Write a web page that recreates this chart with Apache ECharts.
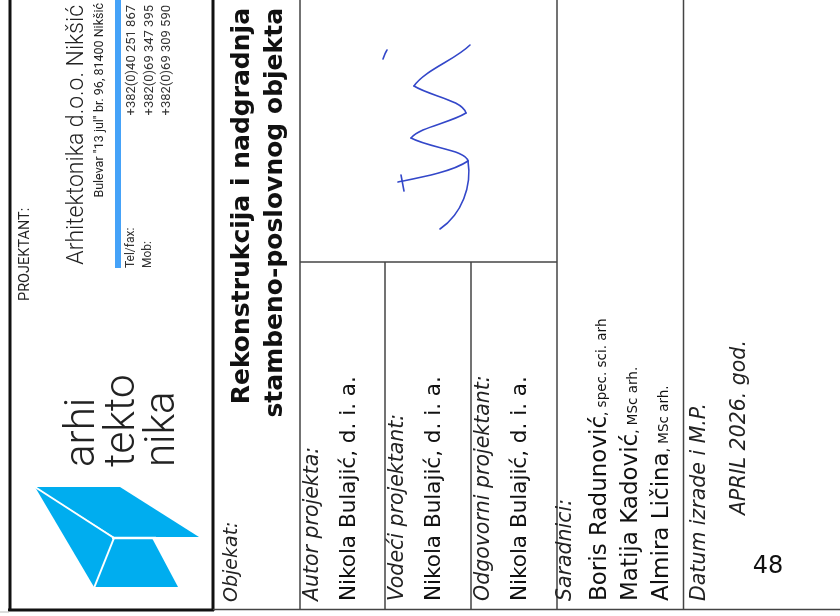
<!DOCTYPE html>
<html>
<head>
<meta charset="utf-8">
<script src="https://cdn.jsdelivr.net/npm/echarts@6/dist/echarts.min.js"></script>
<style>
  html, body { margin: 0; padding: 0; background: #fff; }
  #main { width: 840px; height: 616px; }
</style>
</head>
<body>
<div id="main"></div>
<script>
const chart = echarts.init(document.getElementById("main"));

// Texts of the title block
const logoWords = ["arhi", "tekto", "nika"];
const company = ["PROJEKTANT:", "Arhitektonika d.o.o. Nikšić", 'Bulevar "13 jul" br. 96, 81400 Nikšić'];
const contactLabels = ["Tel/fax:", "Mob:"];
const phones = ["+382(0)40 251 867", "+382(0)69 347 395", "+382(0)69 309 590"];
const projectTitle = ["Rekonstrukcija i nadgradnja", "stambeno-poslovnog objekta"];
const roles = ["Autor projekta:", "Vodeći projektant:", "Odgovorni projektant:"];
const roleNames = ["Nikola Bulajić, d. i. a.", "Nikola Bulajić, d. i. a.", "Nikola Bulajić, d. i. a."];
const collaborators = ["Boris Radunović", "Matija Kadović", "Almira Ličina"];
const collaboratorTitles = [", spec. sci. arh", ", MSc arh.", ", MSc arh."];
const dateTexts = ["Objekat:", "Saradnici:", "Datum izrade i M.P.", "APRIL 2026. god.", "48"];

const GOTHIC = "DejaVu Sans";
const NARROW = "Roboto";
const UP = Math.PI / 2;

// text rotated to read bottom-to-top
function vtext(x, y, text, opts) {
  const o = opts || {};
  const align = o.align || "left";
  return {
    type: "text",
    x: x,
    y: y,
    rotation: UP,
    style: {
      text: text,
      fontFamily: o.family || GOTHIC,
      fontSize: o.size || 20,
      fontWeight: o.weight || "normal",
      fontStyle: o.style || "normal",
      fill: o.color || "#111",
      align: align,
      textAlign: align,
      verticalAlign: "middle",
      textVerticalAlign: "middle",
      rich: o.rich
    }
  };
}

function line(x1, y1, x2, y2, w, c) {
  return {
    type: "line",
    shape: { x1: x1, y1: y1, x2: x2, y2: y2 },
    style: { stroke: c || "#444", lineWidth: w || 1.5 }
  };
}

const elements = [];

// frame
elements.push(line(10, 0, 10, 611, 3, "#111"));
elements.push(line(213, 0, 213, 611, 3, "#111"));
elements.push(line(8, 610, 214, 610, 3, "#111"));
elements.push(line(213, 609.5, 840, 609.5, 1.5, "#444"));
elements.push(line(0, 612, 9, 612, 1, "#bbb"));
[300, 385, 471, 557].forEach(function (x, i) {
  elements.push(line(x, i === 0 || i === 3 ? 0 : 262, x, 609, 1.5, "#444"));
});
elements.push(line(683.5, 0, 683.5, 609, 1.5, "#444"));
elements.push(line(300, 262, 557, 262, 1.5, "#444"));

// logo
const logoBlue = "#00adef";
elements.push({ type: "polygon", shape: { points: [[35, 487], [120, 487], [199, 537], [114, 537]] }, style: { fill: logoBlue } });
elements.push({ type: "polygon", shape: { points: [[35, 487], [114, 538], [94, 587]] }, style: { fill: logoBlue } });
elements.push({ type: "polygon", shape: { points: [[114, 538], [152, 538], [178, 587], [94, 587]] }, style: { fill: logoBlue } });
elements.push(line(35, 487, 114, 538, 2, "#fff"));
elements.push(line(114, 538, 94, 588, 2, "#fff"));
elements.push(line(112, 538, 156, 538, 2.5, "#fff"));

logoWords.forEach(function (w, i) {
  elements.push(vtext(83 + i * 40, 467, w, { family: NARROW, size: 42, weight: 300, color: "#222" }));
});

elements.push(vtext(25, 301, company[0], { family: NARROW, size: 14.5, color: "#222" }));
elements.push(vtext(77, 5, company[1], { family: NARROW, size: 23, weight: 300, align: "right", color: "#222" }));
elements.push(vtext(100, 3, company[2], { family: NARROW, size: 12.5, align: "right", color: "#222" }));

elements.push({ type: "rect", shape: { x: 115, y: 0, width: 6, height: 268 }, style: { fill: "#45a2f8" } });

elements.push(vtext(131, 268, contactLabels[0], { family: NARROW, size: 12, color: "#333" }));
elements.push(vtext(148, 268, contactLabels[1], { family: NARROW, size: 12, color: "#333" }));
phones.forEach(function (p, i) {
  elements.push(vtext(132 + i * 17.5, 5, p, { family: NARROW, size: 13, align: "right", color: "#333" }));
});

// object column
elements.push(vtext(232, 602, dateTexts[0], { size: 19, style: "italic", color: "#222" }));
projectTitle.forEach(function (t, i) {
  elements.push(vtext(242 + i * 33, 8, t, { size: 25, weight: "bold", align: "right" }));
});

// authors
roles.forEach(function (r, i) {
  const x0 = [313, 398, 484][i];
  elements.push(vtext(x0, 601, r, { size: 20.5, style: "italic", color: "#222" }));
  elements.push(vtext(x0 + 36, 601, roleNames[i], { size: 21.5 }));
});

// collaborators
elements.push(vtext(566, 601, dateTexts[1], { size: 20.5, style: "italic", color: "#222" }));
collaborators.forEach(function (c, i) {
  elements.push(vtext(598 + i * 31, 601, "{n|" + c + "}{t|" + collaboratorTitles[i] + "}", {
    size: 23,
    rich: {
      n: { fontFamily: GOTHIC, fontSize: 23, fill: "#111", verticalAlign: "bottom", lineHeight: 28 },
      t: { fontFamily: GOTHIC, fontSize: 13.5, fill: "#111", verticalAlign: "bottom", lineHeight: 28, padding: [0, 0, 3, 0] }
    }
  }));
});

// date
elements.push(vtext(700, 601, dateTexts[2], { size: 20.5, style: "italic", color: "#222" }));
elements.push(vtext(740, 515, dateTexts[3], { size: 20.5, style: "italic", color: "#222" }));
elements.push({
  type: "text", x: 768, y: 567,
  style: { text: dateTexts[4], fontFamily: GOTHIC, fontSize: 24, fill: "#111", align: "center", textAlign: "center", verticalAlign: "middle", textVerticalAlign: "middle" }
});

// signature strokes (cubic curves: start, control 1, control 2, end)
const signature = [
  [470, 45, 455, 60, 425, 70, 414, 86],
  [414, 86, 430, 96, 462, 100, 466, 113],
  [466, 113, 450, 123, 420, 127, 411, 138],
  [411, 138, 430, 148, 466, 150, 468, 161],
  [468, 161, 452, 172, 418, 178, 398, 182],
  [401, 175, 402, 180, 403, 186, 404, 191],
  [468, 161, 472, 186, 462, 214, 440, 229],
  [383, 59, 384, 56, 385, 53, 387, 50]
];
signature.forEach(function (s) {
  elements.push({
    type: "bezierCurve",
    shape: { x1: s[0], y1: s[1], cpx1: s[2], cpy1: s[3], cpx2: s[4], cpy2: s[5], x2: s[6], y2: s[7] },
    style: { stroke: "#3347c9", lineWidth: 1.6, fill: null, lineCap: "round" }
  });
});

chart.setOption({
  animation: false,
  backgroundColor: "#fff",
  graphic: { elements: elements }
});
</script>
</body>
</html>
